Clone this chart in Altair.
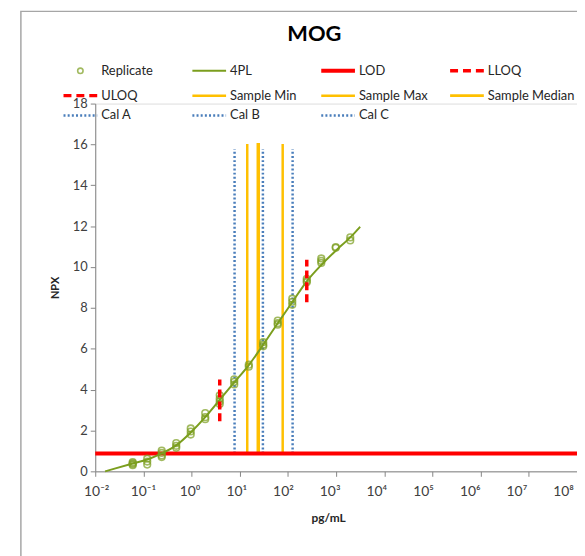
import json
import altair as alt
import pandas as pd

# ---------------- data ----------------
title_text = "MOG"
x_title = "pg/mL"
y_title = "NPX"

group_conc = [0.06, 0.12, 0.24, 0.48, 0.96, 1.92, 3.84, 7.68, 15.4, 30.7,
              61.4, 123, 246, 492, 983, 1966]
replicate_npx = [
    [0.45, 0.40, 0.35, 0.30],
    [0.62, 0.48, 0.33],
    [1.02, 0.90, 0.78, 0.70],
    [1.38, 1.25, 1.15],
    [2.10, 1.95, 1.80],
    [2.85, 2.65, 2.55],
    [3.72, 3.55, 3.42, 3.30],
    [4.50, 4.38, 4.25],
    [5.22, 5.12],
    [6.32, 6.20, 6.12],
    [7.38, 7.25, 7.18],
    [8.45, 8.30, 8.15],
    [9.42, 9.32, 9.25],
    [10.42, 10.30, 10.20],
    [10.98, 10.94],
    [11.45, 11.30],
]

curve_conc = [0.016, 0.06, 0.12, 0.24, 0.48, 0.96, 1.92, 3.84, 7.68, 15.4,
              30.7, 61.4, 123, 246, 492, 983, 1966, 3150]
curve_npx = [0.0, 0.38, 0.58, 0.88, 1.27, 1.90, 2.65, 3.50, 4.35, 5.20,
             6.20, 7.25, 8.28, 9.30, 10.10, 10.80, 11.45, 11.97]

lod_npx = 0.87
loq_names = ["LLOQ", "ULOQ"]
loq_conc = [3.84, 246]
loq_low = [2.45, 8.28]
loq_high = [4.50, 10.35]

sample_names = ["Sample Min", "Sample Median", "Sample Max"]
sample_conc = [14.3, 24.2, 77.8]
sample_top = [16.02, 16.07, 16.02]

cal_names = ["Cal A", "Cal B", "Cal C"]
cal_conc = [7.8, 30.2, 125]
cal_top = [15.76, 15.76, 15.76]

x_tick_values = [0.01, 0.1, 1, 10, 100, 1e3, 1e4, 1e5, 1e6, 1e7, 1e8]
x_tick_labels = ["10⁻²", "10⁻¹", "10⁰", "10¹", "10²", "10³", "10⁴",
                 "10⁵", "10⁶", "10⁷", "10⁸"]
y_tick_values = [0, 2, 4, 6, 8, 10, 12, 14, 16, 18]

legend_labels = ["Replicate", "4PL", "LOD", "LLOQ", "ULOQ", "Sample Min",
                 "Sample Max", "Sample Median", "Cal A", "Cal B", "Cal C"]
legend_kinds = ["point", "green", "red", "reddash", "reddash", "yellow",
                "yellow", "yellowthick", "dot", "dot", "dot"]

# ---------------- styles ----------------
FONT = "Lato"
GREEN = "#7B9E1E"
RED = "#FF0000"
YELLOW = "#FFC000"
BLUE = "#4A7EBB"
AXIS_GREY = "#868686"
TEXT = "#262626"

W, H = 486, 371
LOD_LOW = lod_npx

x_scale = alt.Scale(type="log", domain=[0.01, 1e8], nice=False)
y_scale = alt.Scale(domain=[0, 18], nice=False)

x_axis = alt.Axis(values=x_tick_values, labels=False, grid=False,
                  title=x_title, titleFont=FONT, titleFontSize=12,
                  titleFontWeight="bold", titleColor=TEXT, titlePadding=36,
                  titleX=235, tickSize=5, tickColor=AXIS_GREY,
                  domainColor=AXIS_GREY)
y_axis = alt.Axis(values=y_tick_values, grid=False, title=y_title,
                  titleFont=FONT, titleFontSize=11, titleFontWeight="bold",
                  titleColor=TEXT, titlePadding=12, labelFont=FONT,
                  labelFontSize=13, labelColor="#404040", labelPadding=3,
                  tickSize=5, tickColor=AXIS_GREY, domainColor=AXIS_GREY)


def X(field):
    return alt.X(field, type="quantitative", scale=x_scale, axis=x_axis)


def Y(field):
    return alt.Y(field, type="quantitative", scale=y_scale, axis=y_axis)


# ---------------- tables ----------------
rep_rows = []
for c, vals in zip(group_conc, replicate_npx):
    for v in vals:
        rep_rows.append({"conc": c, "npx": v})
rep_df = pd.DataFrame(rep_rows)
curve_df = pd.DataFrame({"conc": curve_conc, "npx": curve_npx})
lod_df = pd.DataFrame({"npx": [lod_npx]})
loq_df = pd.DataFrame({"name": loq_names, "conc": loq_conc,
                       "lo": loq_low, "hi": loq_high})
samp_df = pd.DataFrame({"name": sample_names, "conc": sample_conc,
                        "lo": [LOD_LOW] * 3, "hi": sample_top})
cal_df = pd.DataFrame({"name": cal_names, "conc": cal_conc,
                       "lo": [LOD_LOW] * 3, "hi": cal_top})

# ---------------- main layers ----------------
cal_layer = alt.Chart(cal_df).mark_rule(
    color=BLUE, strokeWidth=2.5, strokeDash=[2, 2.2]
).encode(x=X("conc"), y=Y("lo"), y2="hi")

samp_thin = alt.Chart(samp_df).transform_filter(
    "datum.name != 'Sample Median'"
).mark_rule(color=YELLOW, strokeWidth=2.5).encode(x=X("conc"), y=Y("lo"), y2="hi")
samp_med = alt.Chart(samp_df).transform_filter(
    "datum.name == 'Sample Median'"
).mark_rule(color=YELLOW, strokeWidth=3.5).encode(x=X("conc"), y=Y("lo"), y2="hi")

lod_layer = alt.Chart(lod_df).mark_rule(color=RED, strokeWidth=4).encode(y=Y("npx"))

curve_layer = alt.Chart(curve_df).mark_line(
    color=GREEN, strokeWidth=2, interpolate="monotone"
).encode(x=X("conc"), y=Y("npx"))

rep_layer = alt.Chart(rep_df).mark_point(
    shape="circle", filled=False, color=GREEN, size=45, strokeWidth=1.6
).encode(x=X("conc"), y=Y("npx"))

loq_layer = alt.Chart(loq_df).mark_rule(
    color=RED, strokeWidth=3.5, strokeDash=[8, 4]
).encode(x=X("conc"), y=Y("lo"), y2="hi")

main = alt.layer(cal_layer, samp_thin, samp_med, lod_layer, curve_layer,
                 rep_layer, loq_layer)

# ---------------- x tick labels (spaced as in the source, a little
# narrower than the decade ticks) ----------------
lab_df = pd.DataFrame({"k": list(range(len(x_tick_labels)))})
xlab_expr = json.dumps(x_tick_labels, ensure_ascii=False) + "[datum.value]"
xlab = alt.Chart(lab_df).mark_point(opacity=0).encode(
    x=alt.X("k:Q", scale=alt.Scale(domain=[0, 10], range=[1, 472], nice=False),
            axis=alt.Axis(orient="bottom", values=list(range(11)),
                          labelExpr=xlab_expr, ticks=False, domain=False,
                          grid=False, title=None, labelFont=FONT,
                          labelFontSize=14, labelColor="#404040",
                          labelPadding=13, labelFlush=False,
                          labelOverlap=False)),
    y=alt.value(H),
)

# ---------------- legend / title / frame (pixel layout) ----------------
L_SP = 130
ROW_Y = [-33, -8, 12]
leg_rows = []
for i, (lab, kind) in enumerate(zip(legend_labels, legend_kinds)):
    r, c = divmod(i, 4)
    x0 = -32 + L_SP * c
    leg_rows.append({"label": lab, "kind": kind, "x0": x0, "x1": x0 + 34,
                     "xm": x0 + 17, "tx": x0 + 38, "ly": ROW_Y[r]})
leg_df = pd.DataFrame(leg_rows)

LX = lambda f: alt.X(f, type="quantitative", scale=None, axis=None)
LY = lambda f: alt.Y(f, type="quantitative", scale=None, axis=None)


def leg_rule(kinds, **kw):
    d = leg_df[leg_df["kind"].isin(kinds)]
    return alt.Chart(d).mark_rule(**kw).encode(x=LX("x0"), x2="x1", y=LY("ly"))


one = pd.DataFrame({"t": [title_text]})
frame = alt.Chart(one).mark_rect(
    fillOpacity=0, stroke="#A6A6A6", strokeWidth=1.5
).encode(x=alt.value(-75), x2=alt.value(700), y=alt.value(-93), y2=alt.value(700))

title_mark = alt.Chart(one).mark_text(
    font=FONT, fontSize=22, fontWeight="bold", color="#000000",
    align="center", baseline="middle"
).encode(x=alt.value(221), y=alt.value(-70), text="t:N")

leg_point = alt.Chart(leg_df[leg_df["kind"] == "point"]).mark_point(
    shape="circle", filled=False, color=GREEN, size=30, strokeWidth=1.6
).encode(x=LX("xm"), y=LY("ly"))
leg_green = leg_rule(["green"], color=GREEN, strokeWidth=2)
leg_red = leg_rule(["red"], color=RED, strokeWidth=4)
leg_reddash = leg_rule(["reddash"], color=RED, strokeWidth=3.5, strokeDash=[8, 5])
leg_yellow = leg_rule(["yellow"], color=YELLOW, strokeWidth=2.5)
leg_yellow2 = leg_rule(["yellowthick"], color=YELLOW, strokeWidth=3)
leg_dot = leg_rule(["dot"], color=BLUE, strokeWidth=2.5, strokeDash=[2, 2.2])
leg_text = alt.Chart(leg_df).mark_text(
    align="left", baseline="middle", font=FONT, fontSize=13, color=TEXT
).encode(x=LX("tx"), y=LY("ly"), text="label:N")

legend = alt.layer(frame, title_mark, leg_point, leg_green, leg_red,
                   leg_reddash, leg_yellow, leg_yellow2, leg_dot, leg_text)

chart = alt.layer(main, xlab, legend).resolve_scale(
    x="independent", y="independent"
).properties(
    width=W, height=H,
    autosize=alt.AutoSizeParams(type="none"),
    padding={"left": 88, "top": 94, "right": 0, "bottom": 83},
).configure_view(strokeWidth=0).configure(background="white")

chart.save("out.html", embed_options={"renderer": "svg", "actions": False})
